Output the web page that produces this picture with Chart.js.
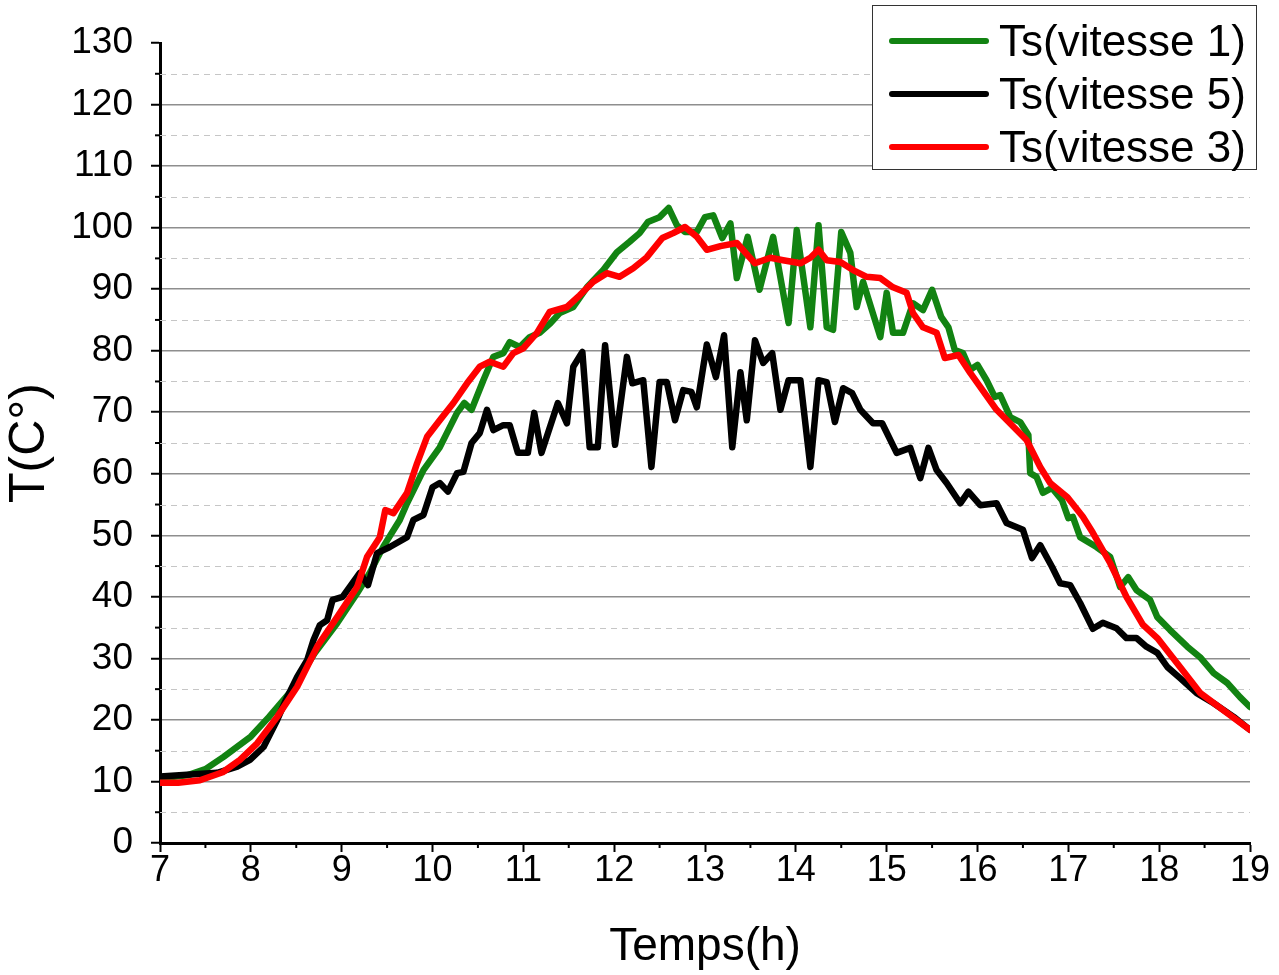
<!DOCTYPE html>
<html>
<head>
<meta charset="utf-8">
<script src="https://cdn.jsdelivr.net/npm/chart.js@4.4.1/dist/chart.umd.min.js"></script>
<style>
  body { margin: 0; background: #fff; }
  #wrap { position: relative; width: 1279px; height: 975px; }
  #legend {
    position: absolute; left: 872px; top: 5px; width: 383px; height: 163px;
    border: 1.5px solid #333; background: #fff;
    font-family: "Liberation Sans", Arial, sans-serif; font-size: 44px; color: #000;
  }
  .row { position: absolute; left: 0; height: 50px; display: flex; align-items: center; white-space: nowrap; }
  .swatch { width: 100px; height: 6px; border-radius: 3px; margin-left: 16px; margin-right: 10px; }
</style>
</head>
<body>
<div id="wrap">
  <canvas id="chart" width="1279" height="975"></canvas>
  <div id="legend"></div>
</div>
<script>
// Ts(vitesse 1) - green
const greenTime = [7.0,7.3,7.5,7.7,8.0,8.2,8.45,8.7,8.95,9.17,9.31,9.46,9.64,9.72,9.9,10.08,10.27,10.35,10.43,10.56,10.67,10.78,10.85,10.96,11.07,11.18,11.3,11.4,11.55,11.7,11.88,12.03,12.17,12.28,12.37,12.5,12.6,12.69,12.78,12.91,13.0,13.09,13.19,13.28,13.35,13.47,13.6,13.75,13.92,14.01,14.16,14.25,14.34,14.41,14.5,14.6,14.67,14.74,14.93,15.0,15.07,15.18,15.29,15.4,15.5,15.6,15.68,15.75,15.84,15.92,16.0,16.1,16.19,16.25,16.36,16.47,16.56,16.58,16.65,16.72,16.82,16.93,17.0,17.05,17.13,17.31,17.46,17.57,17.66,17.75,17.9,17.98,18.12,18.31,18.45,18.6,18.75,18.89,19.0]
const greenTemp = [10.5,11.0,12.0,14.0,17.3,20.5,24.8,30.8,35.7,40.6,43.9,48.2,52.5,55.2,60.6,64.3,69.9,71.5,70.4,75.2,79.0,79.6,81.4,80.6,82.2,82.9,84.5,86.1,87.1,90.3,93.1,96.0,97.7,99.1,100.9,101.7,103.2,100.4,99.3,99.3,101.7,102.0,98.3,100.7,91.8,98.5,89.9,98.5,84.5,99.6,83.8,100.4,83.8,83.4,99.3,95.9,87.1,91.2,82.2,89.4,82.9,82.9,87.7,86.6,89.9,85.5,83.8,80.1,79.6,76.9,77.7,75.2,72.5,72.8,69.2,68.4,66.3,60.1,59.5,56.9,57.7,55.7,52.8,53.0,49.7,48.1,46.5,41.6,43.2,41.1,39.5,36.7,34.6,31.9,30.2,27.6,26.0,23.7,22.1]

// Ts(vitesse 5) - black
const blackTime = [7.0,7.63,7.85,7.99,8.14,8.29,8.4,8.51,8.62,8.69,8.76,8.84,8.9,9.01,9.2,9.29,9.39,9.53,9.72,9.79,9.9,10.0,10.08,10.17,10.27,10.34,10.43,10.52,10.6,10.67,10.78,10.85,10.94,11.05,11.12,11.2,11.38,11.48,11.55,11.65,11.73,11.82,11.9,12.01,12.14,12.2,12.32,12.41,12.5,12.58,12.67,12.76,12.85,12.91,13.02,13.12,13.21,13.3,13.39,13.46,13.55,13.64,13.74,13.83,13.92,14.05,14.16,14.25,14.34,14.43,14.52,14.62,14.71,14.85,14.95,15.11,15.26,15.37,15.46,15.55,15.66,15.81,15.9,16.03,16.21,16.32,16.5,16.6,16.69,16.82,16.91,17.02,17.13,17.27,17.38,17.53,17.64,17.75,17.86,17.98,18.09,18.23,18.41,18.6,18.82,19.0]
const blackTemp = [10.8,11.4,12.4,13.5,15.6,20.0,23.7,27.0,29.7,33.0,35.4,36.2,39.5,40.0,43.9,41.9,47.1,48.1,49.7,52.5,53.3,57.8,58.5,57.1,60.1,60.3,65.0,66.6,70.4,67.1,67.9,67.9,63.4,63.4,69.9,63.4,71.5,68.2,77.4,79.8,64.3,64.3,80.9,64.7,79.0,74.7,75.2,61.1,74.9,74.9,68.7,73.6,73.3,70.8,81.0,75.7,82.5,64.3,76.5,68.7,81.7,78.0,79.6,70.4,75.2,75.2,61.1,75.2,74.9,68.4,73.9,73.1,70.4,68.2,68.2,63.4,64.2,59.3,64.2,60.6,58.5,55.2,57.1,54.9,55.2,52.0,50.9,46.3,48.4,44.9,42.2,41.9,39.0,34.8,35.8,34.9,33.3,33.3,31.9,30.9,28.6,26.8,24.4,22.7,20.5,18.4]

// Ts(vitesse 3) - red
const redTime = [7.0,7.2,7.44,7.69,7.88,8.07,8.29,8.51,8.73,8.95,9.17,9.28,9.42,9.48,9.57,9.72,9.83,9.94,10.08,10.23,10.38,10.52,10.63,10.78,10.89,11.0,11.15,11.29,11.48,11.62,11.77,11.92,12.06,12.21,12.36,12.53,12.65,12.78,12.91,13.02,13.17,13.35,13.55,13.72,13.86,14.05,14.16,14.25,14.34,14.49,14.63,14.78,14.93,15.07,15.22,15.29,15.4,15.55,15.64,15.79,15.92,16.21,16.54,16.69,16.8,16.99,17.16,17.27,17.46,17.64,17.82,17.98,18.23,18.45,18.75,19.0]
const redTemp = [9.8,9.8,10.2,11.5,13.5,16.2,20.5,25.4,31.9,36.7,41.6,46.5,49.7,54.1,53.6,56.9,61.7,66.0,68.7,71.5,74.7,77.4,78.2,77.4,79.6,80.4,82.9,86.3,87.1,89.0,91.2,92.6,92.0,93.4,95.2,98.3,99.1,100.1,98.5,96.4,97.0,97.5,94.2,95.1,94.7,94.2,95.1,96.4,94.7,94.4,93.1,92.0,91.8,90.3,89.4,86.1,83.8,82.9,78.8,79.3,76.4,70.4,65.5,61.1,58.5,56.2,53.0,50.4,45.5,40.0,35.5,33.3,28.6,24.4,21.1,18.4]

const seriesLabels = ['Ts(vitesse 1)', 'Ts(vitesse 5)', 'Ts(vitesse 3)']
const seriesColors = ['#128312', '#000000', '#ff0000']

const FONT = '"Liberation Sans", Arial, sans-serif'

const toPoints = (xs, ys) => xs.map((x, i) => ({ x: x, y: ys[i] }))

// dashed minor grid + short minor ticks (Chart.js has no minor ticks)
const minorTicks = {
  id: 'minorTicks',
  beforeDatasetsDraw(chart) {
    const { ctx, chartArea, scales: { x, y } } = chart
    ctx.save()
    ctx.strokeStyle = '#c6c6c6'
    ctx.lineWidth = 1.2
    ctx.setLineDash([6, 5])
    for (let v = 5; v < 130; v += 10) {
      const py = Math.round(y.getPixelForValue(v)) + 0.5
      ctx.beginPath()
      ctx.moveTo(chartArea.left, py)
      ctx.lineTo(chartArea.right, py)
      ctx.stroke()
    }
    ctx.setLineDash([])
    ctx.strokeStyle = '#000'
    ctx.lineWidth = 2
    for (let v = 5; v < 130; v += 10) {
      const py = y.getPixelForValue(v)
      ctx.beginPath()
      ctx.moveTo(chartArea.left - 5, py)
      ctx.lineTo(chartArea.left, py)
      ctx.stroke()
    }
    for (let t = 7.5; t < 19; t += 1) {
      const px = x.getPixelForValue(t)
      ctx.beginPath()
      ctx.moveTo(px, chartArea.bottom)
      ctx.lineTo(px, chartArea.bottom + 5)
      ctx.stroke()
    }
    ctx.restore()
  }
}

const datasets = [
  { label: seriesLabels[0], data: toPoints(greenTime, greenTemp), borderColor: seriesColors[0], order: 3 },
  { label: seriesLabels[1], data: toPoints(blackTime, blackTemp), borderColor: seriesColors[1], order: 2 },
  { label: seriesLabels[2], data: toPoints(redTime, redTemp), borderColor: seriesColors[2], order: 1 }
].map(d => Object.assign(d, {
  borderWidth: 6.5, pointRadius: 0, tension: 0, fill: false,
  borderJoinStyle: 'round', borderCapStyle: 'round'
}))

new Chart(document.getElementById('chart'), {
  type: 'line',
  data: { datasets: datasets },
  options: {
    responsive: false,
    animation: false,
    devicePixelRatio: 1,
    layout: { padding: { top: 43, right: 29, left: 0, bottom: 0 } },
    plugins: { legend: { display: false }, tooltip: { enabled: false } },
    scales: {
      x: {
        type: 'linear', min: 7, max: 19,
        ticks: { stepSize: 1, color: '#000', font: { family: FONT, size: 36 }, padding: -3, maxRotation: 0 },
        grid: { drawOnChartArea: false, drawTicks: true, tickLength: 9, tickColor: '#000', tickWidth: 2 },
        border: { color: '#000', width: 3 },
        title: { display: true, text: 'Temps(h)', color: '#000', font: { family: FONT, size: 46 }, padding: { top: 0, bottom: 0 } },
        afterFit(scale) { scale.height = 132 }
      },
      y: {
        min: 0, max: 130,
        ticks: { stepSize: 10, color: '#000', font: { family: FONT, size: 37 }, padding: 18 },
        grid: {
          color: ctx => (ctx.tick && (ctx.tick.value === 0 || ctx.tick.value === 130)) ? 'rgba(0,0,0,0)' : '#8e8e8e',
          lineWidth: 1.5, tickLength: 9, tickColor: '#000', tickWidth: 2
        },
        border: { color: '#000', width: 3 },
        title: { display: true, text: 'T(C°)', color: '#000', font: { family: FONT, size: 50 }, padding: { top: 0, bottom: 0 } },
        afterFit(scale) { scale.width = 160 }
      }
    }
  },
  plugins: [minorTicks]
})

// legend box, top right inside the plot
const legend = document.getElementById('legend')
seriesLabels.forEach((name, i) => {
  const row = document.createElement('div')
  row.className = 'row'
  row.style.top = (10 + i * 53) + 'px'
  const sw = document.createElement('span')
  sw.className = 'swatch'
  sw.style.background = seriesColors[i]
  const txt = document.createElement('span')
  txt.textContent = name
  row.appendChild(sw)
  row.appendChild(txt)
  legend.appendChild(row)
})
</script>
</body>
</html>
